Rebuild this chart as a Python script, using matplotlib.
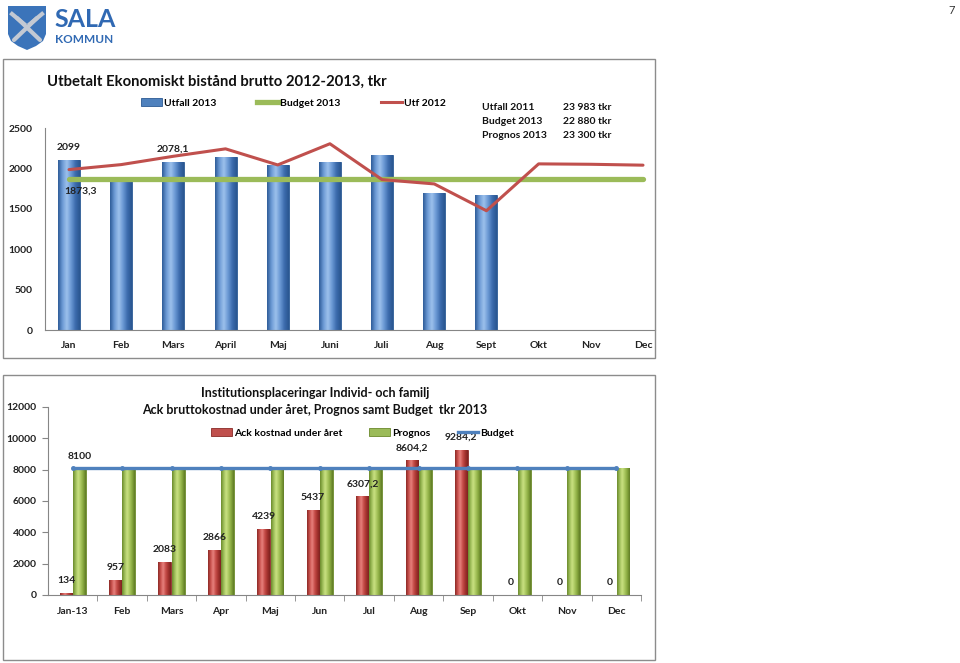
import numpy as np
import matplotlib
matplotlib.use("Agg")
import matplotlib.pyplot as plt
from matplotlib.colors import LinearSegmentedColormap
from matplotlib.patches import Patch, Polygon, Rectangle
from matplotlib.lines import Line2D

plt.rcParams['font.family'] = ['Lato', 'DejaVu Sans']

# --- data, top chart (Utbetalt ekonomiskt bistand) ---
months_top = ['Jan', 'Feb', 'Mars', 'April', 'Maj', 'Juni', 'Juli', 'Aug', 'Sept', 'Okt', 'Nov', 'Dec']
utfall_2013 = [2099, 1860, 2078.1, 2135, 2037, 2076, 2160, 1698, 1668]
budget_2013 = [1873.3, 1873.3, 1873.3, 1873.3, 1873.3, 1873.3, 1873.3, 1873.3, 1873.3, 1873.3, 1873.3, 1873.3]
utf_2012 = [1985, 2047, 2150, 2242, 2043, 2305, 1861, 1808, 1476, 2056, 2051, 2040]
summary_names = ['Utfall 2011', 'Budget 2013', 'Prognos 2013']
summary_values = ['23 983 tkr', '22 880 tkr', '23 300 tkr']

# --- data, bottom chart (Institutionsplaceringar) ---
months_bot = ['Jan-13', 'Feb', 'Mars', 'Apr', 'Maj', 'Jun', 'Jul', 'Aug', 'Sep', 'Okt', 'Nov', 'Dec']
ack_kostnad = [134, 957, 2083, 2866, 4239, 5437, 6307.2, 8604.2, 9284.2, 0, 0, 0]
prognos = [8100, 8100, 8100, 8100, 8100, 8100, 8100, 8100, 8100, 8100, 8100, 8100]
budget_inst = [8100, 8100, 8100, 8100, 8100, 8100, 8100, 8100, 8100, 8100, 8100, 8100]

W, H = 960, 663
def fx(px):
    return px / W
def fy(py):
    return 1 - py / H

def sv(v):
    return ('%g' % v).replace('.', ',')

blue_cm = LinearSegmentedColormap.from_list('b', ['#2E5C98', '#6C9AD5', '#9DC1EC', '#6A98D4', '#3C6CAD', '#2A5690'])
red_cm = LinearSegmentedColormap.from_list('r', ['#8A2925', '#C9504C', '#E8837F', '#C64D49', '#A3322E', '#7C221F'])
green_cm = LinearSegmentedColormap.from_list('g', ['#6A892B', '#9DBD59', '#CBE283', '#A9C75F', '#87A73E', '#5E7B24'])
grad = np.linspace(0, 1, 64).reshape(1, -1)

def shaded_bars(ax, x, h, width, color, cmap, edge):
    bars = ax.bar(x, h, width, color=color, edgecolor=edge, linewidth=0.6, zorder=2)
    for b in bars:
        if b.get_height() <= 0:
            continue
        im = ax.imshow(grad, extent=(b.get_x(), b.get_x() + b.get_width(), 0, b.get_height()),
                       aspect='auto', cmap=cmap, interpolation='bicubic', zorder=2.1)
        im.set_clip_path(b)
    return bars

fig = plt.figure(figsize=(9.6, 6.63), dpi=100)

# page furniture: frames, logo, page number
for (x0, y0, x1, y1) in [(3, 59, 655, 358), (3, 375, 655, 660)]:
    fig.add_artist(Rectangle((fx(x0), fy(y1)), fx(x1) - fx(x0), fy(y0) - fy(y1),
                             transform=fig.transFigure, fill=False, edgecolor='#8C8C8C', lw=1))
shield = [(8, 6), (46, 6), (46, 34), (43, 41), (36, 46), (27, 50), (18, 46), (11, 41), (8, 34)]
fig.add_artist(Polygon([(fx(a), fy(b)) for a, b in shield], closed=True, transform=fig.transFigure,
                       facecolor='#3B74BA', edgecolor='none'))
for (a0, b0, a1, b1) in [(14, 40, 37, 18), (40, 40, 17, 18)]:
    fig.add_artist(Line2D([fx(a0), fx(a1)], [fy(b0), fy(b1)], transform=fig.transFigure,
                          color='#C3C9D3', lw=3, solid_capstyle='round'))
fig.add_artist(Line2D([fx(12), fx(24)], [fy(14), fy(24)], transform=fig.transFigure, color='#C3C9D3', lw=3))
fig.add_artist(Line2D([fx(42), fx(30)], [fy(14), fy(24)], transform=fig.transFigure, color='#C3C9D3', lw=3))
fig.text(fx(54), fy(27), 'SALA', fontsize=18, fontweight='bold', color='#3069B3', va='baseline')
fig.text(fx(55), fy(43), 'KOMMUN', fontsize=8.5, fontweight='bold', color='#3069B3', va='baseline')
fig.text(fx(955), fy(10), '7', fontsize=8, color='#333333', ha='right', va='center')

# ---------------- top chart ----------------
ax1 = fig.add_axes([fx(45), fy(330), (655 - 45) / W, (330 - 128) / H])
xt = np.arange(len(months_top))
xu = np.arange(len(utfall_2013))
shaded_bars(ax1, xu, utfall_2013, 0.42, '#4F81BD', blue_cm, '#2C5A93')
ax1.plot(xt, budget_2013, color='#9BBB59', lw=3.8, solid_capstyle='round', zorder=3)
ax1.plot(xt, utf_2012, color='#C0504D', lw=2.2, solid_capstyle='round', zorder=4)
ax1.set_xlim(-0.46, 11.23)
ax1.set_ylim(0, 2500)
ax1.set_yticks(range(0, 2501, 500))
ax1.set_xticks(xt)
ax1.set_xticklabels(months_top)
ax1.tick_params(axis='both', length=0, labelsize=7.5, colors='#222222')
ax1.tick_params(axis='y', pad=9)
ax1.tick_params(axis='x', pad=8)
for lab in ax1.get_xticklabels() + ax1.get_yticklabels():
    lab.set_fontweight('bold')
for s in ['top', 'right']:
    ax1.spines[s].set_visible(False)
for s in ['left', 'bottom']:
    ax1.spines[s].set_color('#868686')

ax1.annotate(sv(utfall_2013[0]), (0, utfall_2013[0]), xytext=(0, 9), textcoords='offset points',
             ha='center', va='center', fontsize=7.5, fontweight='bold', color='#222222')
ax1.annotate(sv(utfall_2013[2]), (2, utfall_2013[2]), xytext=(0, 9), textcoords='offset points',
             ha='center', va='center', fontsize=7.5, fontweight='bold', color='#222222')
ax1.annotate(sv(budget_2013[0]), (0, budget_2013[0]), xytext=(8, -9), textcoords='offset points',
             ha='center', va='center', fontsize=7.5, fontweight='bold', color='#222222')

fig.text(fx(47), fy(82), 'Utbetalt Ekonomiskt bistånd brutto 2012-2013, tkr', fontsize=10.7,
         fontweight='bold', color='#111111', va='center')
h1 = [Patch(facecolor='#4F81BD', edgecolor='#2C5A93', lw=0.6),
      Line2D([], [], color='#9BBB59', lw=3.8),
      Line2D([], [], color='#C0504D', lw=2.2)]
fig.legend(h1, ['Utfall 2013', 'Budget 2013', 'Utf 2012'], loc='center left',
           bbox_to_anchor=(fx(141), fy(103)), ncol=3, frameon=False, handlelength=2.0,
           handletextpad=0.2, columnspacing=3.9, borderpad=0, borderaxespad=0,
           prop={'size': 7.5, 'weight': 'bold'})
for i, (n, v) in enumerate(zip(summary_names, summary_values)):
    fig.text(fx(482), fy(107 + 14 * i), n, fontsize=7.5, fontweight='bold', color='#111111', va='center')
    fig.text(fx(563), fy(107 + 14 * i), v, fontsize=7.5, fontweight='bold', color='#111111', va='center')

# ---------------- bottom chart ----------------
ax2 = fig.add_axes([fx(48), fy(595), (641 - 48) / W, (595 - 407) / H])
xb = np.arange(len(months_bot))
shaded_bars(ax2, xb - 0.135, ack_kostnad, 0.26, '#C0504D', red_cm, '#8A2A27')
shaded_bars(ax2, xb + 0.135, prognos, 0.26, '#9BBB59', green_cm, '#6A892B')
ax2.plot(xb, budget_inst, color='#4F81BD', lw=2.4, marker='o', ms=2.5, zorder=4)
ax2.set_xlim(-0.5, 11.5)
ax2.set_ylim(0, 12000)
ax2.set_yticks(range(0, 12001, 2000))
ax2.set_xticks(xb)
ax2.set_xticklabels(months_bot)
ax2.set_xticks(np.arange(12) + 0.5, minor=True)
ax2.tick_params(axis='x', which='major', length=0, pad=9)
ax2.tick_params(axis='x', which='minor', length=4, color='#868686')
ax2.tick_params(axis='y', length=4, color='#868686', pad=4)
ax2.tick_params(axis='both', labelsize=7.5, colors='#222222')
ax2.tick_params(axis='both', which='both', color='#868686')
for lab in ax2.get_xticklabels() + ax2.get_yticklabels():
    lab.set_fontweight('bold')
for s in ['top', 'right']:
    ax2.spines[s].set_visible(False)
for s in ['left', 'bottom']:
    ax2.spines[s].set_color('#868686')

for i, v in enumerate(ack_kostnad):
    ax2.annotate(sv(v), (i - 0.135, v), xytext=(0, 9), textcoords='offset points',
                 ha='center', va='center', fontsize=7.5, fontweight='bold', color='#222222')
ax2.annotate(sv(prognos[0]), (0.135, prognos[0]), xytext=(0, 8), textcoords='offset points',
             ha='center', va='center', fontsize=7.5, fontweight='bold', color='#222222')

fig.text(fx(315), fy(393), 'Institutionsplaceringar Individ- och familj', fontsize=9,
         fontweight='bold', color='#111111', ha='center', va='center')
fig.text(fx(315), fy(410), 'Ack bruttokostnad under året, Prognos samt Budget  tkr 2013', fontsize=9,
         fontweight='bold', color='#111111', ha='center', va='center')
h2 = [Patch(facecolor='#C0504D', edgecolor='#8A2A27', lw=0.6),
      Patch(facecolor='#9BBB59', edgecolor='#6A892B', lw=0.6),
      Line2D([], [], color='#4F81BD', lw=2.4)]
fig.legend(h2, ['Ack kostnad under året', 'Prognos', 'Budget'], loc='center left',
           bbox_to_anchor=(fx(211), fy(433)), ncol=3, frameon=False, handlelength=2.0,
           handletextpad=0.2, columnspacing=2.6, borderpad=0, borderaxespad=0,
           prop={'size': 7.5, 'weight': 'bold'})

fig.savefig('out.png', dpi=100)
